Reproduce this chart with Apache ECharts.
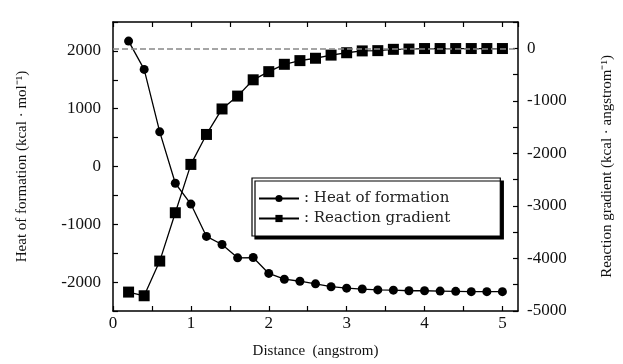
<!DOCTYPE html>
<html>
<head>
<meta charset="utf-8">
<script src="https://cdn.jsdelivr.net/npm/echarts@6/dist/echarts.min.js"></script>
<style>
  html, body { margin: 0; padding: 0; background: #fff; }
  #chart { width: 623px; height: 364px; }
</style>
</head>
<body>
<div id="chart"></div>
<script>
var distance = [0.2, 0.4, 0.6, 0.8, 1.0, 1.2, 1.4, 1.6, 1.8, 2.0, 2.2, 2.4, 2.6,
                2.8, 3.0, 3.2, 3.4, 3.6, 3.8, 4.0, 4.2, 4.4, 4.6, 4.8, 5.0];
var heatOfFormation = [2170, 1680, 600, -290, -650, -1210, -1350, -1580, -1575, -1850,
                       -1950, -1985, -2030, -2080, -2105, -2120, -2135, -2140, -2150,
                       -2150, -2155, -2160, -2165, -2165, -2165];
var reactionGradient = [-4640, -4710, -4050, -3130, -2210, -1640, -1155, -910, -600, -445,
                        -305, -235, -190, -130, -85, -50, -45, -20, -15, -5,
                        -5, -5, -5, -5, -5];

function pairs(xs, ys) {
    return xs.map(function (x, i) { return [x, ys[i]]; });
}

var chart = echarts.init(document.getElementById('chart'));
var serif = '"Liberation Serif", "Times New Roman", serif';

var axisCommon = {
    axisLine: { onZero: false, lineStyle: { color: '#000', width: 1.5 } },
    axisTick: { inside: true, length: 5, lineStyle: { color: '#000', width: 1.2 } },
    splitLine: { show: false }
};

var option = {
    animation: false,
    backgroundColor: '#fff',
    grid: { left: 113, right: 105, top: 22, bottom: 53 },
    legend: {
        orient: 'vertical',
        left: 252,
        top: 178,
        itemWidth: 40,
        itemHeight: 9,
        itemGap: 5,
        padding: [13, 50, 10, 6],
        backgroundColor: '#fff',
        borderColor: '#000',
        borderWidth: 1.2,
        shadowColor: '#000',
        shadowBlur: 0,
        shadowOffsetX: 3,
        shadowOffsetY: 3,
        formatter: function (name) { return ': ' + name; },
        textStyle: { fontFamily: '"DejaVu Serif", serif', fontSize: 15, color: '#222' },
        data: ['Heat of formation', 'Reaction gradient']
    },
    xAxis: [
        Object.assign({}, axisCommon, {
            type: 'value',
            min: 0,
            max: 5.2,
            interval: 0.5,
            name: 'Distance  (angstrom)',
            nameLocation: 'middle',
            nameGap: 33,
            nameTextStyle: { fontFamily: serif, fontSize: 15, color: '#111' },
            axisLabel: {
                margin: 4,
                fontFamily: serif, fontSize: 17, color: '#111',
                showMaxLabel: false,
                formatter: function (v) { return Math.abs(v % 1) < 1e-9 ? String(v) : ''; }
            }
        }),
        Object.assign({}, axisCommon, {
            type: 'value',
            position: 'top',
            min: 0,
            max: 5.2,
            interval: 0.5,
            axisLabel: { show: false }
        })
    ],
    yAxis: [
        Object.assign({}, axisCommon, {
            type: 'value',
            min: -2500,
            max: 2500,
            interval: 500,
            name: 'Heat of formation (kcal · mol⁻¹)',
            nameLocation: 'middle',
            nameGap: 83,
            nameTextStyle: { fontFamily: serif, fontSize: 15, color: '#111' },
            axisLabel: {
                margin: 12,
                fontFamily: serif, fontSize: 17, color: '#111',
                formatter: function (v) { return v % 1000 === 0 ? String(v) : ''; }
            }
        }),
        Object.assign({}, axisCommon, {
            type: 'value',
            min: -5000,
            max: 500,
            interval: 500,
            name: 'Reaction gradient (kcal · angstrom⁻¹)',
            nameLocation: 'middle',
            nameGap: 82,
            nameTextStyle: { fontFamily: serif, fontSize: 15, color: '#111' },
            axisLabel: {
                margin: 9,
                fontFamily: serif, fontSize: 17, color: '#111',
                formatter: function (v) { return v % 1000 === 0 ? String(v) : ''; }
            }
        })
    ],
    series: [
        {
            name: 'Heat of formation',
            type: 'line',
            xAxisIndex: 0,
            yAxisIndex: 0,
            data: pairs(distance, heatOfFormation),
            symbol: 'circle',
            symbolSize: 9,
            itemStyle: { color: '#000' },
            lineStyle: { color: '#000', width: 1.3 }
        },
        {
            name: 'Reaction gradient',
            type: 'line',
            xAxisIndex: 0,
            yAxisIndex: 1,
            data: pairs(distance, reactionGradient),
            symbol: 'rect',
            symbolSize: 11,
            itemStyle: { color: '#000' },
            lineStyle: { color: '#000', width: 1.3 },
            markLine: {
                silent: true,
                symbol: ['none', 'none'],
                label: { show: false },
                lineStyle: { color: '#888', type: 'dashed', width: 1.5 },
                data: [{ yAxis: 0 }]
            },
            z: 1
        }
    ]
};

chart.setOption(option);
</script>
</body>
</html>
